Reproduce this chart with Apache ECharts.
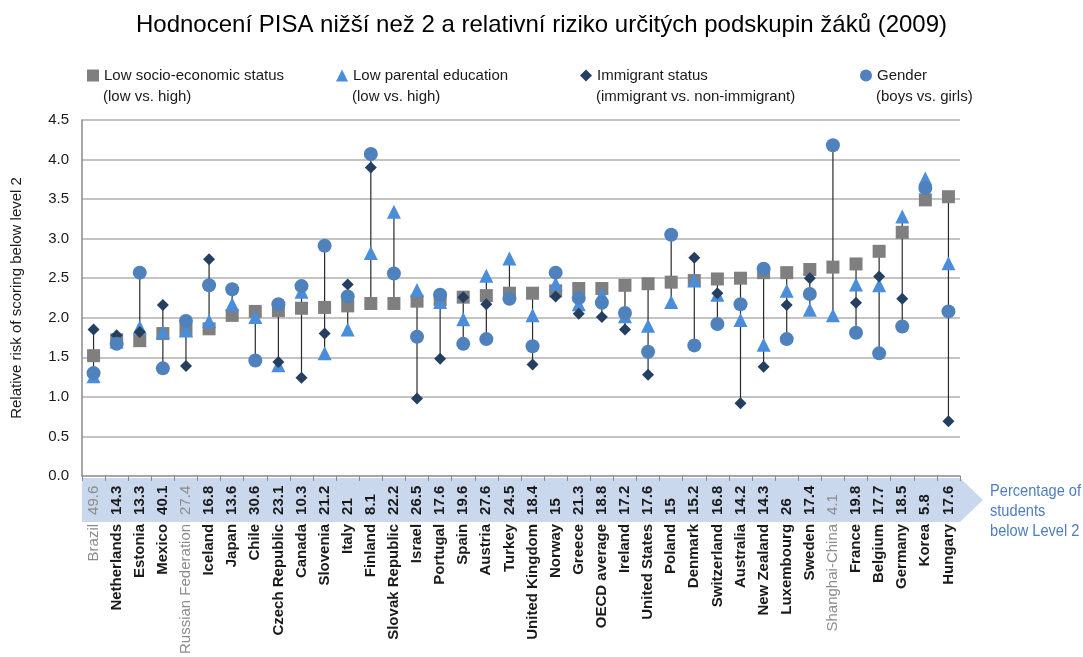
<!DOCTYPE html>
<html>
<head>
<meta charset="utf-8">
<script src="https://cdn.jsdelivr.net/npm/echarts@6/dist/echarts.min.js"></script>
<style>
html,body{margin:0;padding:0;background:#fff;}
#chart{width:1083px;height:657px;}
</style>
</head>
<body>
<div id="chart"></div>
<script>
// ---- data ----
const countries = ["Brazil","Netherlands","Estonia","Mexico","Russian Federation","Iceland","Japan","Chile","Czech Republic","Canada","Slovenia","Italy","Finland","Slovak Republic","Israel","Portugal","Spain","Austria","Turkey","United Kingdom","Norway","Greece","OECD average","Ireland","United States","Poland","Denmark","Switzerland","Australia","New Zealand","Luxembourg","Sweden","Shanghai-China","France","Belgium","Germany","Korea","Hungary"];
const pctBelow2 = ["49.6","14.3","13.3","40.1","27.4","16.8","13.6","30.6","23.1","10.3","21.2","21","8.1","22.2","26.5","17.6","19.6","27.6","24.5","18.4","15","21.3","18.8","17.2","17.6","15","15.2","16.8","14.2","14.3","26","17.4","4.1","19.8","17.7","18.5","5.8","17.6"];
const nonOECD = ["Brazil","Russian Federation","Shanghai-China"];
const sesRisk =       [1.52,1.72,1.71,1.80,1.84,1.86,2.03,2.08,2.09,2.12,2.13,2.15,2.18,2.18,2.21,2.23,2.26,2.28,2.31,2.31,2.34,2.37,2.37,2.41,2.43,2.45,2.47,2.49,2.50,2.57,2.57,2.61,2.64,2.68,2.84,3.08,3.49,3.53];
const parentRisk =    [1.26,1.70,1.88,1.82,1.84,1.96,2.17,2.01,1.40,2.33,1.55,1.85,2.82,3.34,2.35,2.20,1.98,2.53,2.75,2.03,2.43,2.17,2.29,2.02,1.90,2.20,2.47,2.29,1.97,1.66,2.34,2.10,2.03,2.42,2.41,3.28,3.76,2.69];
const immigrantRisk = [1.85,1.78,1.82,2.16,1.39,2.74,null,null,1.44,1.24,1.80,2.42,3.90,null,0.98,1.48,2.26,2.17,null,1.41,2.27,2.05,2.01,1.85,1.28,null,2.76,2.31,0.92,1.38,2.16,2.50,null,2.19,2.52,2.24,null,0.69];
const genderRisk =    [1.30,1.67,2.57,1.36,1.96,2.41,2.36,1.46,2.17,2.40,2.91,2.27,4.07,2.56,1.76,2.29,1.67,1.73,2.24,1.64,2.57,2.25,2.19,2.06,1.57,3.05,1.65,1.92,2.17,2.62,1.73,2.30,4.18,1.81,1.55,1.89,3.64,2.08];
const yTicks = [0,0.5,1,1.5,2,2.5,3,3.5,4,4.5];

const seriesNames = ["Low socio-economic status","Low parental education","Immigrant status","Gender"];
const seriesSub = ["(low vs. high)","(low vs. high)","(immigrant vs. non-immigrant)","(boys vs. girls)"];

// range (high-low) lines built from the series
const rangeData = countries.map((c, i) => {
  const v = [sesRisk[i], parentRisk[i], immigrantRisk[i], genderRisk[i]].filter(x => x !== null);
  return [i, Math.min.apply(null, v), Math.max.apply(null, v)];
});

const FONT = "'Liberation Sans', Arial, sans-serif";
const chart = echarts.init(document.getElementById('chart'), null, {renderer: 'canvas'});

const legendLefts = [87, 336, 580, 860];
const colors = ['#7f7f7f', '#4a8ddb', '#243f60', '#4f81bd'];
const symbols = ['rect', 'triangle', 'diamond', 'circle'];
const sizes = [13, 14, 12, 14];
const dataArr = [sesRisk, parentRisk, immigrantRisk, genderRisk];

const option = {
  backgroundColor: '#fff',
  animation: false,
  textStyle: {fontFamily: FONT},
  title: {
    text: 'Hodnocení PISA nižší než 2 a relativní riziko určitých podskupin žáků (2009)',
    left: 'center', top: 8,
    textStyle: {fontSize: 24, fontWeight: 'normal', color: '#000', fontFamily: FONT}
  },
  legend: seriesNames.map((n, k) => ({
    data: [n], left: legendLefts[k], top: 68, itemWidth: 12, itemHeight: 12, itemGap: 4,
    padding: 0, selectedMode: false,
    textStyle: {fontSize: 15, color: '#1a1a1a', fontFamily: FONT}
  })),
  graphic: [
    {type: 'polygon', z: -10, silent: true,
     shape: {points: [[82, 478], [960, 478], [983, 500], [960, 522], [82, 522]]},
     style: {fill: '#c9d8ec'}},
    {type: 'text', x: 990, y: 481, scaleX: 0.86, silent: true,
     style: {text: 'Percentage of\nstudents\nbelow Level 2', fill: '#4f7dbd', font: '17px ' + FONT,
             lineHeight: 20, verticalAlign: 'top', align: 'left'}}
  ].concat(seriesSub.map((s, k) => ({
    type: 'text', left: legendLefts[k] + 16, top: 89, silent: true,
    style: {text: s, fill: '#1a1a1a', font: '15px ' + FONT}
  }))),
  grid: {left: 82, right: 123, top: 120, bottom: 179, containLabel: false},
  xAxis: [
    {
      type: 'category', data: countries, position: 'bottom',
      boundaryGap: true,
      axisLine: {show: true, lineStyle: {color: '#9a9a9a', width: 1.5}},
      axisTick: {show: true, length: 5, lineStyle: {color: '#8a8a8a'}},
      axisLabel: {
        interval: 0, rotate: 90, margin: 39, align: 'left',
        formatter: (v, i) => nonOECD.indexOf(v) >= 0 ? '{g|' + pctBelow2[i] + '}' : '{b|' + pctBelow2[i] + '}',
        rich: {
          b: {fontSize: 15, fontWeight: 'bold', color: '#1a1a1a', fontFamily: FONT},
          g: {fontSize: 15, fontWeight: 'normal', color: '#8c8c8c', fontFamily: FONT}
        }
      },
      splitLine: {show: false}
    },
    {
      type: 'category', data: countries, position: 'bottom', offset: 0,
      axisLine: {show: false}, axisTick: {show: false},
      axisLabel: {
        interval: 0, rotate: 90, margin: 48,
        formatter: (v) => nonOECD.indexOf(v) >= 0 ? '{g|' + v + '}' : '{b|' + v + '}',
        rich: {
          b: {fontSize: 15, fontWeight: 'bold', color: '#1a1a1a', fontFamily: FONT},
          g: {fontSize: 15, fontWeight: 'normal', color: '#8c8c8c', fontFamily: FONT}
        }
      }
    }
  ],
  yAxis: {
    type: 'value', min: yTicks[0], max: yTicks[yTicks.length - 1], interval: 0.5,
    name: 'Relative risk of scoring below level 2',
    nameLocation: 'middle', nameGap: 58, nameRotate: 90,
    nameTextStyle: {fontSize: 15, color: '#1a1a1a', fontFamily: FONT},
    axisLine: {show: true, lineStyle: {color: '#8a8a8a', width: 1.5}},
    axisTick: {show: false},
    axisLabel: {fontSize: 15, color: '#1a1a1a', margin: 13, formatter: v => v.toFixed(1)},
    splitLine: {show: true, lineStyle: {color: '#b0b0b0', width: 1.5}}
  },
  series: [
    {
      type: 'custom', name: 'range', xAxisIndex: 0, z: 1, silent: true,
      data: rangeData,
      renderItem: function (params, api) {
        const p1 = api.coord([api.value(0), api.value(1)]);
        const p2 = api.coord([api.value(0), api.value(2)]);
        return {type: 'line', shape: {x1: p1[0], y1: p1[1], x2: p2[0], y2: p2[1]},
                style: {stroke: '#2a2a2a', lineWidth: 1.2}};
      }
    }
  ].concat(seriesNames.map((n, k) => ({
    type: 'scatter', name: n, xAxisIndex: 0, z: 2 + k,
    symbol: symbols[k], symbolSize: sizes[k],
    itemStyle: {color: colors[k], opacity: 1},
    data: dataArr[k]
  })))
};
chart.setOption(option);
</script>
</body>
</html>
